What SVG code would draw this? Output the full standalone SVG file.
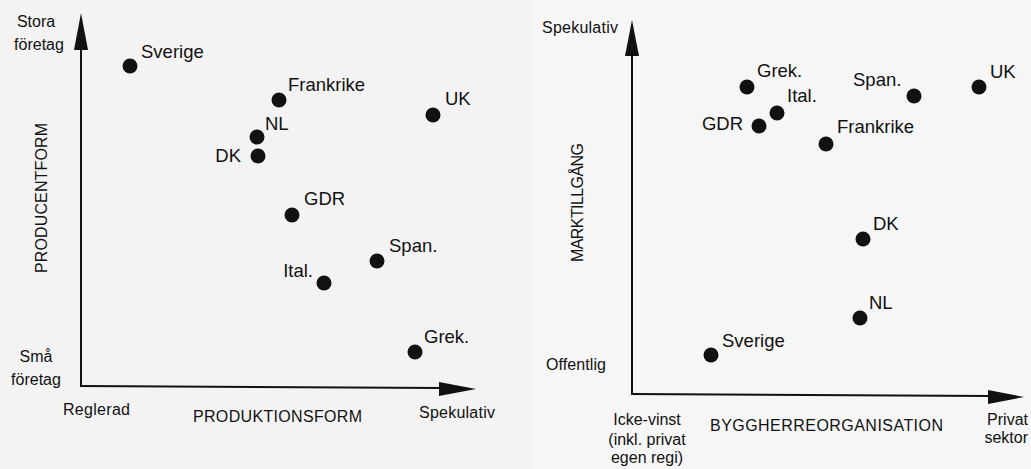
<svg xmlns="http://www.w3.org/2000/svg" width="1031" height="469" viewBox="0 0 1031 469">
<style>
.t{font-family:"Liberation Sans",Arial,sans-serif;fill:#111}
.lbl{font-size:18.5px}
.ax{font-size:16px}
.dot{fill:#111}
.axis{stroke:#111;stroke-width:2;fill:none}
.head{fill:#111}
</style>
<rect x="0" y="0" width="1031" height="469" fill="#f6f6f6"/>
<rect x="0" y="0" width="533" height="469" fill="#f3f3f3"/>
<g id="connectors">
  <path class="axis" d="M81,386 V48"/>
  <polygon class="head" points="81,13 74,50 88,50"/>
  <path class="axis" d="M80,386 L442,388"/>
  <polygon class="head" points="476,389 439,382 439,396"/>
  <path class="axis" d="M632,394 V54"/>
  <polygon class="head" points="632,20 625,56 639,56"/>
  <path class="axis" d="M631,394 L990,396"/>
  <polygon class="head" points="1024,397 988,390 988,404"/>
</g>
<g id="left-axis-labels">
  <text class="t ax" x="36" y="27" text-anchor="middle">Stora</text>
  <text class="t ax" x="39" y="50" text-anchor="middle">företag</text>
  <text class="t ax" x="36" y="362" text-anchor="middle">Små</text>
  <text class="t ax" x="36" y="385" text-anchor="middle">företag</text>
  <text class="t ax" x="63" y="415" textLength="67">Reglerad</text>
  <text class="t ax" x="193" y="422" textLength="169">PRODUKTIONSFORM</text>
  <text class="t ax" x="419" y="418" textLength="76">Spekulativ</text>
  <text class="t ax" transform="translate(47,273) rotate(-90)" textLength="150">PRODUCENTFORM</text>
</g>
<g id="left-sverige"><circle class="dot" cx="130" cy="66" r="7.5"/><text class="t lbl" x="141" y="58">Sverige</text></g>
<g id="left-frankrike"><circle class="dot" cx="279" cy="100" r="7.5"/><text class="t lbl" x="288" y="91">Frankrike</text></g>
<g id="left-uk"><circle class="dot" cx="433" cy="115" r="7.5"/><text class="t lbl" x="445" y="105">UK</text></g>
<g id="left-nl"><circle class="dot" cx="257" cy="137" r="7.5"/><text class="t lbl" x="265" y="130">NL</text></g>
<g id="left-dk"><circle class="dot" cx="258" cy="156" r="7.5"/><text class="t lbl" x="241" y="162" text-anchor="end">DK</text></g>
<g id="left-gdr"><circle class="dot" cx="292" cy="215" r="7.5"/><text class="t lbl" x="304" y="205">GDR</text></g>
<g id="left-span"><circle class="dot" cx="377" cy="261" r="7.5"/><text class="t lbl" x="389" y="252">Span.</text></g>
<g id="left-ital"><circle class="dot" cx="324" cy="283" r="7.5"/><text class="t lbl" x="313" y="277" text-anchor="end">Ital.</text></g>
<g id="left-grek"><circle class="dot" cx="415" cy="352" r="7.5"/><text class="t lbl" x="424" y="343">Grek.</text></g>
<g id="right-axis-labels">
  <text class="t ax" x="542" y="33" textLength="76">Spekulativ</text>
  <text class="t ax" x="546" y="370" textLength="60">Offentlig</text>
  <text class="t ax" x="647" y="425" text-anchor="middle">Icke-vinst</text>
  <text class="t ax" x="647" y="445" text-anchor="middle">(inkl. privat</text>
  <text class="t ax" x="647" y="463" text-anchor="middle">egen regi)</text>
  <text class="t ax" x="710" y="431" textLength="233">BYGGHERREORGANISATION</text>
  <text class="t ax" x="1028" y="425" text-anchor="end">Privat</text>
  <text class="t ax" x="1028" y="443" text-anchor="end">sektor</text>
  <text class="t ax" transform="translate(583,262) rotate(-90)" textLength="119">MARKTILLGÅNG</text>
</g>
<g id="right-grek"><circle class="dot" cx="747" cy="87" r="7.5"/><text class="t lbl" x="757" y="77">Grek.</text></g>
<g id="right-span"><circle class="dot" cx="914" cy="96" r="7.5"/><text class="t lbl" x="853" y="86">Span.</text></g>
<g id="right-uk"><circle class="dot" cx="979" cy="87" r="7.5"/><text class="t lbl" x="990" y="78">UK</text></g>
<g id="right-ital"><circle class="dot" cx="777" cy="113" r="7.5"/><text class="t lbl" x="787" y="102">Ital.</text></g>
<g id="right-gdr"><circle class="dot" cx="759" cy="126" r="7.5"/><text class="t lbl" x="743" y="130" text-anchor="end">GDR</text></g>
<g id="right-frankrike"><circle class="dot" cx="826" cy="144" r="7.5"/><text class="t lbl" x="837" y="133">Frankrike</text></g>
<g id="right-dk"><circle class="dot" cx="863" cy="239" r="7.5"/><text class="t lbl" x="873" y="230">DK</text></g>
<g id="right-nl"><circle class="dot" cx="860" cy="318" r="7.5"/><text class="t lbl" x="869" y="309">NL</text></g>
<g id="right-sverige"><circle class="dot" cx="711" cy="355" r="7.5"/><text class="t lbl" x="722" y="347">Sverige</text></g>
</svg>
